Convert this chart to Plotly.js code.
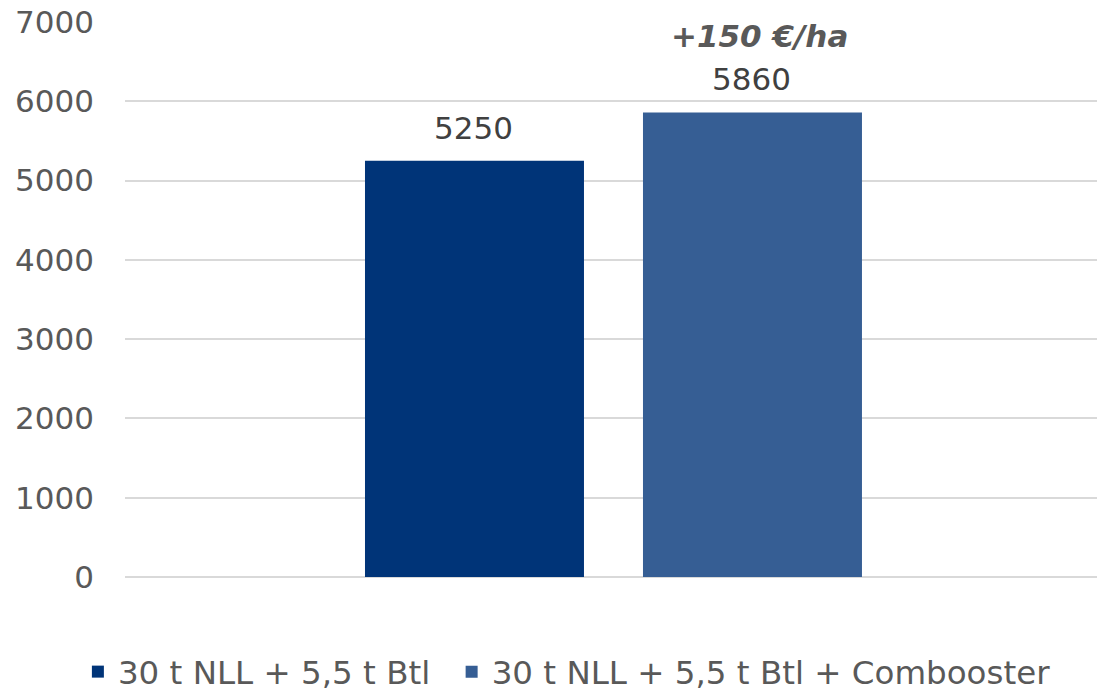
<!DOCTYPE html>
<html>
<head>
<meta charset="utf-8">
<script src="https://cdn.plot.ly/plotly-3.0.1.min.js"></script>
<style>html,body{margin:0;padding:0;background:#fff;}#chart{width:1097px;height:700px;}</style>
</head>
<body>
<div id="chart"></div>
<script>
// ---- data ----
const categories = ['Erlös'];
const seriesNames = ['30 t NLL + 5,5 t Btl', '30 t NLL + 5,5 t Btl + Combooster'];
const seriesValues = [[5250], [5860]];
const seriesColors = ['#003478', '#365E94'];
const yTicks = [0, 1000, 2000, 3000, 4000, 5000, 6000, 7000];
const deltaLabel = '+150 €/ha';

const FONT = 'DejaVu Sans, Verdana, sans-serif';
// bar geometry (in category units)
const barWidth = 0.2253;
const barOffsets = [-0.2531, 0.0329];
const legendIds = ['legend', 'legend2'];
const legendX = [0.071, 0.4117];

const traces = seriesNames.map((name, i) => ({
  type: 'bar',
  name: name,
  x: categories,
  y: seriesValues[i],
  width: barWidth,
  offset: barOffsets[i],
  marker: {color: seriesColors[i]},
  legend: legendIds[i],
  hoverinfo: 'none'
}));

const annotations = [];
seriesNames.forEach((name, i) => {
  seriesValues[i].forEach((v, j) => {
    annotations.push({
      xref: 'x', yref: 'y',
      x: j + barOffsets[i] + barWidth / 2,
      y: v,
      text: String(v),
      showarrow: false,
      yanchor: 'bottom',
      xshift: -1,
      yshift: 13,
      font: {family: FONT, size: 31, color: '#404040'}
    });
  });
});
annotations.push({
  xref: 'x', yref: 'y',
  x: categories.length - 1 + barOffsets[1] + barWidth / 2,
  y: seriesValues[1][0],
  text: '<b><i>' + deltaLabel + '</i></b>',
  showarrow: false,
  yanchor: 'bottom',
  xshift: 7,
  yshift: 56,
  font: {family: FONT, size: 31, color: '#595959'}
});

const legendBase = {
  orientation: 'h',
  xref: 'container', yref: 'container',
  xanchor: 'left',
  y: -0.009, yanchor: 'bottom',
  font: {family: FONT, size: 32.5, color: '#595959'},
  bgcolor: 'rgba(0,0,0,0)'
};

const layout = {
  width: 1097, height: 700,
  margin: {l: 125, r: 0, t: 22, b: 123},
  paper_bgcolor: '#ffffff',
  plot_bgcolor: '#ffffff',
  font: {family: FONT, size: 32, color: '#595959'},
  barmode: 'group',
  showlegend: true,
  legend: Object.assign({}, legendBase, {x: legendX[0]}),
  legend2: Object.assign({}, legendBase, {x: legendX[1]}),
  xaxis: {
    type: 'category',
    range: [-0.5, 0.5],
    showticklabels: false,
    showgrid: false,
    showline: false,
    ticks: '',
    zeroline: false
  },
  yaxis: {
    range: [0, 7000],
    tickvals: yTicks,
    ticktext: yTicks.map(String),
    showgrid: true,
    gridcolor: '#d9d9d9',
    gridwidth: 2,
    zeroline: true,
    zerolinecolor: '#d9d9d9',
    zerolinewidth: 2,
    showline: false,
    ticks: '',
    ticklabelstandoff: 30,
    tickfont: {family: FONT, size: 31, color: '#595959'}
  },
  annotations: annotations
};

Plotly.newPlot('chart', traces, layout, {displayModeBar: false, staticPlot: true});
</script>
</body>
</html>
